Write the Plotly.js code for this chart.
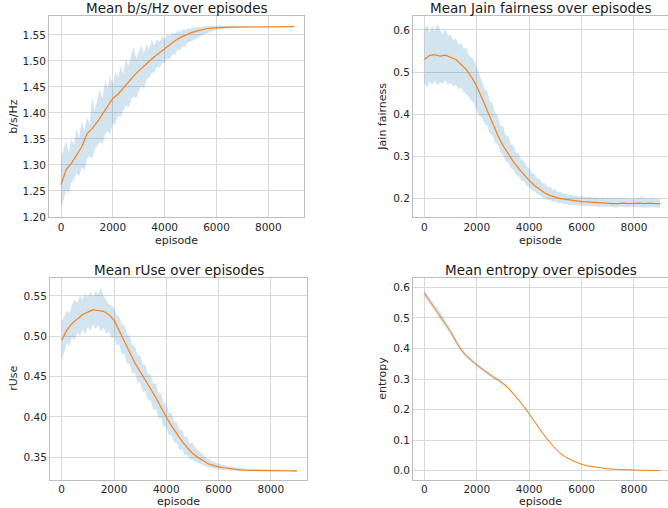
<!DOCTYPE html>
<html>
<head>
<meta charset="utf-8">
<script src="https://cdn.plot.ly/plotly-3.0.1.min.js"></script>
<style>html,body{margin:0;padding:0;background:#fff}#chart{width:668px;height:508px}</style>
</head>
<body>
<div id="chart"></div>
<script>
// ---------- data ----------
// episodes for mean curves (every 200)
const episodes = [0,200,400,600,800,1000,1200,1400,1600,1800,2000,2200,2400,2600,2800,3000,3200,3400,3600,3800,4000,4200,4400,4600,4800,5000,5200,5400,5600,5800,6000,6200,6400,6600,6800,7000,7200,7400,7600,7800,8000,8200,8400,8600,8800,9000];
// episodes for spread bands (every 100)
const bandEpisodes = [0,100,200,300,400,500,600,700,800,900,
  1000,1100,1200,1300,1400,1500,1600,1700,1800,1900,
  2000,2100,2200,2300,2400,2500,2600,2700,2800,2900,
  3000,3100,3200,3300,3400,3500,3600,3700,3800,3900,
  4000,4100,4200,4300,4400,4500,4600,4700,4800,4900,
  5000,5100,5200,5300,5400,5500,5600,5700,5800,5900,
  6000,6100,6200,6300,6400,6500,6600,6700,6800,6900,
  7000,7100,7200,7300,7400,7500,7600,7700,7800,7900,
  8000,8100,8200,8300,8400,8500,8600,8700,8800,8900,
  9000];

const titles = ["Mean b/s/Hz over episodes","Mean Jain fairness over episodes","Mean rUse over episodes","Mean entropy over episodes"];
const yLabels = ["b/s/Hz","Jain fairness","rUse","entropy"];
const xLabel = "episode";
const xTickVals = [0,2000,4000,6000,8000];

const bpsMean = [1.262,1.291,1.303,1.318,1.335,1.360,1.370,1.383,1.398,1.412,1.428,1.436,1.448,1.461,1.471,1.481,1.491,1.499,1.508,1.516,1.524,1.532,1.539,1.545,1.550,1.554,1.557,1.560,1.562,1.563,1.564,1.5645,1.565,1.565,1.5652,1.5655,1.5655,1.5657,1.5657,1.5658,1.5658,1.5659,1.5659,1.566,1.566,1.566];
const bpsUpper = [1.315,1.330,1.345,1.325,1.350,1.338,1.370,1.352,1.385,1.365,
  1.392,1.378,1.430,1.405,1.425,1.445,1.428,1.462,1.448,1.470,
  1.455,1.480,1.468,1.490,1.475,1.505,1.490,1.512,1.528,1.505,
  1.518,1.530,1.515,1.532,1.522,1.540,1.530,1.542,1.536,1.548,
  1.542,1.552,1.548,1.555,1.552,1.558,1.556,1.561,1.559,1.563,
  1.562,1.565,1.564,1.566,1.5655,1.567,1.5665,1.568,1.5672,1.568,
  1.5675,1.568,1.5672,1.5678,1.567,1.5675,1.5672,1.5676,1.567,1.5674,
  1.5668,1.5672,1.567,1.5674,1.5668,1.567,1.5672,1.5668,1.567,1.5667,
  1.567,1.5668,1.5667,1.5669,1.5666,1.5668,1.5667,1.5666,1.5668,1.5666,
  1.5665];
const bpsLower = [1.215,1.235,1.252,1.245,1.265,1.272,1.285,1.278,1.295,1.290,
  1.310,1.318,1.312,1.330,1.338,1.345,1.340,1.358,1.365,1.360,
  1.380,1.378,1.395,1.392,1.405,1.415,1.410,1.425,1.432,1.428,
  1.442,1.452,1.446,1.464,1.468,1.477,1.478,1.488,1.487,1.496,
  1.495,1.505,1.504,1.513,1.512,1.521,1.520,1.529,1.528,1.536,
  1.537,1.540,1.543,1.546,1.548,1.551,1.553,1.555,1.557,1.559,
  1.560,1.561,1.5615,1.562,1.5625,1.563,1.5633,1.5636,1.5638,1.564,
  1.5642,1.5644,1.5646,1.5647,1.5648,1.565,1.565,1.5651,1.5652,1.5652,
  1.5653,1.5653,1.5654,1.5654,1.5654,1.5655,1.5655,1.5655,1.5656,1.5656,
  1.5656];

const jainMean = [0.530,0.540,0.541,0.538,0.540,0.535,0.530,0.518,0.506,0.488,0.466,0.438,0.408,0.378,0.350,0.326,0.305,0.287,0.271,0.256,0.243,0.231,0.221,0.213,0.207,0.203,0.200,0.198,0.196,0.194,0.193,0.192,0.191,0.190,0.189,0.189,0.188,0.188,0.189,0.188,0.189,0.189,0.188,0.189,0.188,0.188];
const jainUpper = [0.600,0.612,0.595,0.610,0.598,0.614,0.600,0.590,0.602,0.585,
  0.590,0.575,0.580,0.565,0.568,0.555,0.558,0.540,0.535,0.528,
  0.512,0.495,0.482,0.460,0.455,0.430,0.427,0.400,0.398,0.373,
  0.372,0.350,0.349,0.328,0.327,0.309,0.308,0.292,0.290,0.276,
  0.274,0.260,0.259,0.247,0.247,0.236,0.237,0.228,0.228,0.221,
  0.222,0.215,0.217,0.211,0.213,0.208,0.210,0.206,0.208,0.204,
  0.206,0.204,0.203,0.204,0.202,0.203,0.202,0.201,0.203,0.201,
  0.202,0.200,0.202,0.201,0.200,0.202,0.201,0.200,0.201,0.199,
  0.201,0.200,0.202,0.205,0.201,0.200,0.199,0.201,0.200,0.199,
  0.198];
const jainLower = [0.475,0.462,0.478,0.470,0.480,0.468,0.476,0.472,0.482,0.470,
  0.474,0.466,0.470,0.460,0.462,0.452,0.448,0.440,0.432,0.425,
  0.408,0.396,0.392,0.376,0.374,0.354,0.350,0.332,0.329,0.309,
  0.304,0.289,0.285,0.272,0.268,0.256,0.253,0.242,0.240,0.230,
  0.228,0.219,0.218,0.210,0.209,0.202,0.202,0.196,0.197,0.192,
  0.193,0.189,0.190,0.187,0.188,0.185,0.186,0.184,0.185,0.183,
  0.184,0.182,0.183,0.182,0.181,0.182,0.181,0.180,0.181,0.181,
  0.180,0.181,0.180,0.179,0.180,0.181,0.180,0.179,0.180,0.180,
  0.179,0.180,0.179,0.180,0.179,0.178,0.179,0.180,0.179,0.178,
  0.179];

const ruseMean = [0.495,0.508,0.516,0.522,0.527,0.530,0.533,0.532,0.531,0.527,0.520,0.507,0.493,0.479,0.467,0.456,0.446,0.435,0.424,0.411,0.400,0.389,0.379,0.370,0.362,0.355,0.350,0.346,0.342,0.340,0.338,0.337,0.336,0.335,0.3345,0.334,0.3338,0.3336,0.3335,0.3334,0.3334,0.3333,0.3333,0.3333,0.3332,0.3332];
const ruseUpper = [0.518,0.525,0.532,0.528,0.540,0.545,0.542,0.550,0.546,0.553,
  0.548,0.555,0.549,0.556,0.552,0.560,0.550,0.545,0.540,0.538,
  0.535,0.526,0.525,0.515,0.514,0.503,0.500,0.489,0.488,0.477,
  0.476,0.465,0.465,0.453,0.453,0.441,0.442,0.429,0.429,0.417,
  0.417,0.405,0.405,0.394,0.394,0.384,0.384,0.375,0.375,0.367,
  0.368,0.362,0.359,0.356,0.353,0.350,0.348,0.346,0.344,0.343,
  0.342,0.341,0.340,0.3395,0.339,0.338,0.3375,0.337,0.337,0.3365,
  0.336,0.336,0.3358,0.3355,0.3353,0.335,0.335,0.3349,0.3348,0.3348,
  0.3347,0.3347,0.3346,0.3346,0.3346,0.3345,0.3345,0.3345,0.3344,0.3344,
  0.3344];
const ruseLower = [0.470,0.480,0.492,0.488,0.499,0.495,0.505,0.500,0.509,0.503,
  0.512,0.507,0.515,0.509,0.514,0.506,0.511,0.503,0.506,0.497,
  0.499,0.489,0.490,0.478,0.478,0.466,0.466,0.454,0.455,0.442,
  0.443,0.431,0.432,0.420,0.421,0.409,0.410,0.398,0.399,0.388,
  0.388,0.377,0.378,0.368,0.368,0.359,0.360,0.353,0.353,0.348,
  0.347,0.345,0.343,0.342,0.340,0.339,0.338,0.337,0.336,0.3355,
  0.335,0.3345,0.334,0.3338,0.3336,0.3334,0.3332,0.333,0.333,0.3329,
  0.3328,0.3328,0.3327,0.3327,0.3327,0.3326,0.3326,0.3326,0.3326,0.3325,
  0.3325,0.3325,0.3325,0.3325,0.3324,0.3324,0.3324,0.3324,0.3324,0.3324,
  0.3324];

const entMean = [0.581,0.556,0.532,0.508,0.484,0.455,0.424,0.396,0.376,0.360,0.346,0.333,0.320,0.308,0.298,0.286,0.271,0.252,0.231,0.210,0.187,0.162,0.137,0.113,0.091,0.072,0.056,0.044,0.035,0.027,0.021,0.016,0.013,0.010,0.008,0.006,0.005,0.004,0.003,0.0025,0.002,0.0015,0.001,0.001,0.0008,0.0006];
const entUpper = [0.592,0.566,0.542,0.519,0.494,0.465,0.433,0.404,0.383,0.367,0.352,0.339,0.326,0.314,0.303,0.291,0.276,0.257,0.236,0.214,0.191,0.166,0.141,0.117,0.094,0.075,0.059,0.046,0.037,0.029,0.023,0.018,0.014,0.011,0.009,0.007,0.006,0.005,0.004,0.003,0.0025,0.002,0.0015,0.0013,0.001,0.0008];
const entLower = [0.571,0.546,0.522,0.497,0.474,0.445,0.415,0.388,0.369,0.353,0.340,0.327,0.314,0.302,0.293,0.281,0.266,0.247,0.226,0.206,0.183,0.158,0.133,0.109,0.088,0.069,0.053,0.042,0.033,0.025,0.019,0.014,0.011,0.009,0.007,0.005,0.004,0.003,0.0025,0.002,0.0015,0.001,0.0008,0.0007,0.0006,0.0004];

// ---------- styling ----------
const FONT = "DejaVu Sans, Verdana, sans-serif";
const TXT = "#262626";
const BAND = "rgba(31,119,180,0.2)";
const ORANGE = "#ff7f0e";
const GRID = "#d9d9d9";
const FRAME = "#bdbdbd";
const W = 668, H = 508;

const panels = [
  {mean:bpsMean, up:bpsUpper, lo:bpsLower, bx:bandEpisodes, xd:[49,304], yd:[16,217.3], xr:[-463,9375], yr:[1.1994,1.5865], dtick:0.05, fmt:".2f", lw:1.2, ytx:14, xty:240},
  {mean:jainMean, up:jainUpper, lo:jainLower, bx:bandEpisodes, xd:[413,668], yd:[16,217.3], xr:[-435,9300], yr:[0.1556,0.633], dtick:0.1, fmt:".1f", lw:1.2, ytx:383, xty:240},
  {mean:ruseMean, up:ruseUpper, lo:ruseLower, bx:bandEpisodes, xd:[50,307], yd:[278,479.7], xr:[-448,9383], yr:[0.3222,0.5723], dtick:0.05, fmt:".2f", lw:1.2, ytx:14, xty:501},
  {mean:entMean, up:entUpper, lo:entLower, bx:episodes, xd:[413,668], yd:[278,479.7], xr:[-435,9300], yr:[-0.0295,0.6305], dtick:0.1, fmt:".1f", lw:1.0, ytx:383, xty:501}
];

const data = [];
const layout = {
  width: W, height: H,
  margin: {l:0, r:0, t:0, b:0},
  paper_bgcolor: "#fff", plot_bgcolor: "#fff",
  showlegend: false,
  font: {family: FONT, color: TXT, size: 10.5},
  annotations: []
};

panels.forEach((p, i) => {
  const n = i + 1;
  const xa = n === 1 ? "x" : "x" + n;
  const ya = n === 1 ? "y" : "y" + n;
  data.push({x: p.bx, y: p.lo, xaxis: xa, yaxis: ya, type: "scatter", mode: "lines",
             line: {width: 0, color: BAND}, hoverinfo: "skip"});
  data.push({x: p.bx, y: p.up, xaxis: xa, yaxis: ya, type: "scatter", mode: "lines",
             fill: "tonexty", fillcolor: BAND, line: {width: 0, color: BAND}, hoverinfo: "skip"});
  data.push({x: episodes, y: p.mean, xaxis: xa, yaxis: ya, type: "scatter", mode: "lines",
             line: {width: p.lw, color: ORANGE}});

  const xkey = n === 1 ? "xaxis" : "xaxis" + n;
  const ykey = n === 1 ? "yaxis" : "yaxis" + n;
  const xR = Math.min(W, p.xd[1]);
  layout[xkey] = {
    domain: [p.xd[0] / W, xR / W],
    anchor: ya, range: p.xr, tickvals: xTickVals, ticks: "",
    showgrid: true, gridcolor: GRID, gridwidth: 1, zeroline: false,
    showline: true, mirror: true, linecolor: FRAME, linewidth: 1,
    tickfont: {size: 10.5, color: TXT, family: FONT}
  };
  layout[ykey] = {
    domain: [1 - p.yd[1] / H, 1 - p.yd[0] / H],
    anchor: xa, range: p.yr, dtick: p.dtick, tick0: 0, tickformat: p.fmt, ticks: "",
    showgrid: true, gridcolor: GRID, gridwidth: 1, zeroline: false,
    showline: true, mirror: true, linecolor: FRAME, linewidth: 1,
    tickfont: {size: 10.5, color: TXT, family: FONT}
  };
  // subplot title
  layout.annotations.push({
    text: titles[i], xref: "paper", yref: "paper",
    x: (p.xd[0] + xR) / 2 / W, y: 1 - (p.yd[0] - 8) / H,
    xanchor: "center", yanchor: "middle", showarrow: false,
    font: {size: 13.5, color: "#1a1a1a", family: FONT}
  });
  // x axis title
  layout.annotations.push({
    text: xLabel, xref: "paper", yref: "paper",
    x: (p.xd[0] + p.xd[1] - 1) / 2 / W, y: 1 - p.xty / H,
    xanchor: "center", yanchor: "middle", showarrow: false,
    font: {size: 11, color: TXT, family: FONT}
  });
  // y axis title
  layout.annotations.push({
    text: yLabels[i], xref: "paper", yref: "paper", textangle: -90,
    x: p.ytx / W, y: 1 - (p.yd[0] + p.yd[1]) / 2 / H,
    xanchor: "center", yanchor: "middle", showarrow: false,
    font: {size: 11, color: TXT, family: FONT}
  });
});

Plotly.newPlot("chart", data, layout, {staticPlot: true, displayModeBar: false});
</script>
</body>
</html>
